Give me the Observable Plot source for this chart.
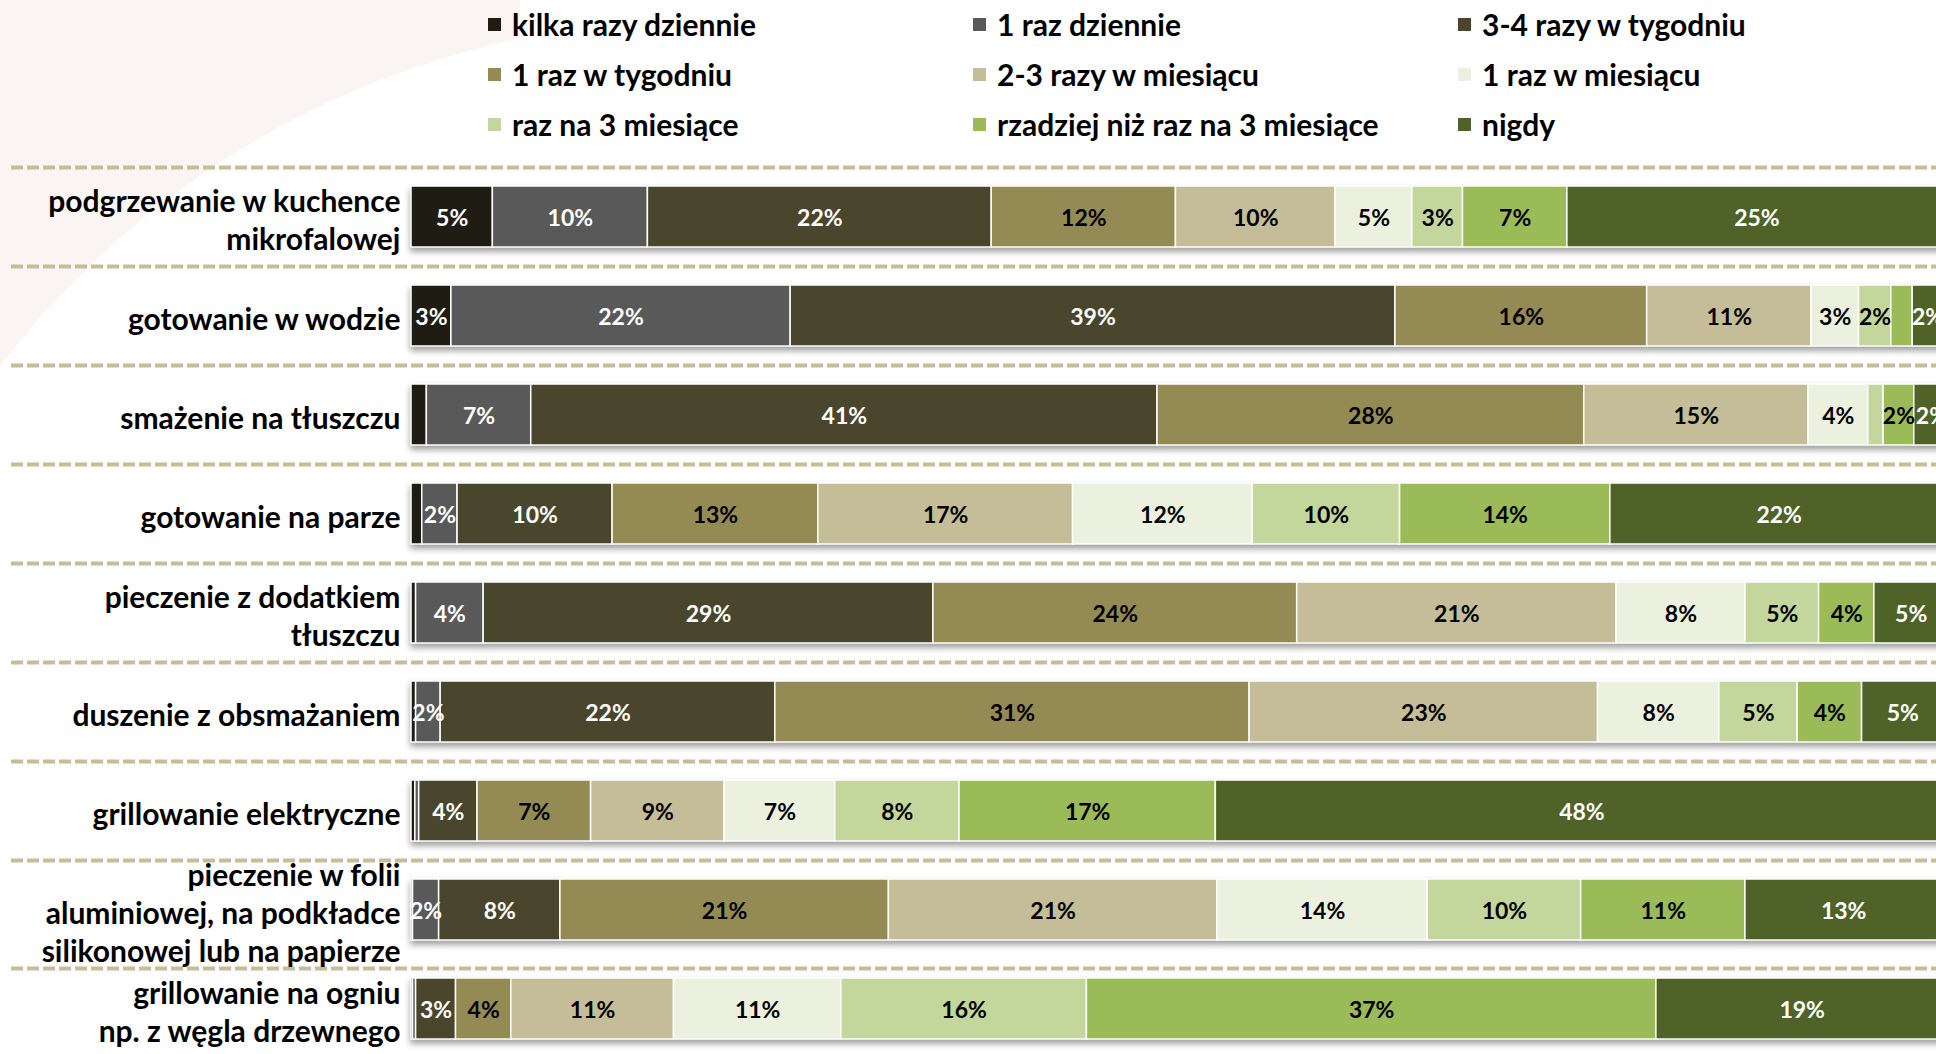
<!DOCTYPE html>
<html>
<head>
<meta charset="utf-8">
<script src="https://cdn.jsdelivr.net/npm/d3@7"></script>
<script src="https://cdn.jsdelivr.net/npm/@observablehq/plot@0.6"></script>
<style>
  html, body { margin: 0; padding: 0; width: 1936px; height: 1054px; overflow: hidden; }
  body {
    font-family: Lato, "Open Sans", sans-serif; font-weight: 700; color: #000;
    background:
      radial-gradient(circle 880px at 700px 900px, rgba(255,255,255,0) 879px, #faf5f2 881px) 0 0 / 520px 430px no-repeat,
      #ffffff;
  }
  #legend { position: relative; height: 150px; }
  #legend .grid { position: absolute; left: 488px; top: -1px; display: grid; grid-template-columns: 485px 485px 485px; grid-auto-rows: 50px; }
  #legend .item { display: flex; align-items: center; font-size: 30px; white-space: nowrap; }
  #legend .sw { width: 13px; height: 13px; margin-right: 11px; flex: none; }
  #chart svg { display: block; overflow: hidden; }
  #chart svg g[aria-label="bar"] { filter: drop-shadow(0px 4px 3px rgba(0,0,0,0.38)); }
</style>
</head>
<body>
<div id="legend"></div>
<div id="chart"></div>
<script>
// Row categories (tick labels, with line breaks as in the original)
const categories = [
  "podgrzewanie w kuchence\nmikrofalowej",
  "gotowanie w wodzie",
  "smażenie na tłuszczu",
  "gotowanie na parze",
  "pieczenie z dodatkiem\ntłuszczu",
  "duszenie z obsmażaniem",
  "grillowanie elektryczne",
  "pieczenie w folii\naluminiowej, na podkładce\nsilikonowej lub na papierze",
  "grillowanie na ogniu\nnp. z węgla drzewnego"
];

// Frequency series (legend order = stacking order)
const frequencies = [
  "kilka razy dziennie",
  "1 raz dziennie",
  "3-4 razy w tygodniu",
  "1 raz w tygodniu",
  "2-3 razy w miesiącu",
  "1 raz w miesiącu",
  "raz na 3 miesiące",
  "rzadziej niż raz na 3 miesiące",
  "nigdy"
];

const colors = ["#1f1d13", "#595959", "#4a452d", "#948a54", "#c4bd97", "#ebf1de", "#c3d69b", "#9bbb59", "#4f6228"];
const darkSeries = ["kilka razy dziennie", "1 raz dziennie", "3-4 razy w tygodniu", "nigdy"];

// Series values (%), one value per category row, in the order above
const kilkaRazyDziennie   = [5.3, 2.6, 1.0, 0.7, 0.3, 0.3, 0.25, 0.1, 0.1];
const razDziennie         = [10.1, 22.1, 6.8, 2.3, 4.4, 1.6, 0.25, 1.7, 0.2];
const razy34WTygodniu     = [22.4, 39.4, 40.8, 10.1, 29.3, 21.8, 3.8, 7.9, 2.6];
const razWTygodniu        = [12.0, 16.4, 27.8, 13.4, 23.7, 30.9, 7.4, 21.4, 3.6];
const razy23WMiesiacu     = [10.4, 10.7, 14.6, 16.6, 20.8, 22.7, 8.7, 21.4, 10.6];
const razWMiesiacu        = [5.0, 3.1, 3.9, 11.7, 8.4, 7.9, 7.2, 13.7, 10.9];
const razNa3Miesiace      = [3.3, 2.1, 1.0, 9.6, 4.8, 5.1, 8.1, 10.0, 16.0];
const rzadziej            = [6.8, 1.4, 2.0, 13.7, 3.6, 4.2, 16.7, 10.7, 37.1];
const nigdy               = [24.7, 2.0, 2.3, 22.0, 4.8, 5.3, 47.7, 12.8, 19.0];

const series = [kilkaRazyDziennie, razDziennie, razy34WTygodniu, razWTygodniu, razy23WMiesiacu,
                razWMiesiacu, razNa3Miesiace, rzadziej, nigdy];

// Build tidy table for Plot
const rows = [];
categories.forEach((c, i) => {
  frequencies.forEach((f, j) => rows.push({category: c, freq: f, value: series[j][i]}));
});

const FONT = "Lato, 'Open Sans', sans-serif";
const pct = d => Math.round(d.value) >= 2 ? Math.round(d.value) + "%" : "";

// Legend (HTML, 3 columns)
const grid = document.createElement("div");
grid.className = "grid";
frequencies.forEach((f, j) => {
  const item = document.createElement("div");
  item.className = "item";
  const sw = document.createElement("span");
  sw.className = "sw";
  sw.style.background = colors[j];
  item.appendChild(sw);
  item.appendChild(document.createTextNode(f));
  grid.appendChild(item);
});
document.getElementById("legend").appendChild(grid);

const dash = {stroke: "#c4bd97", strokeWidth: 4, strokeDasharray: "12,4"};

const chart = Plot.plot({
  width: 1936,
  height: 904,
  marginLeft: 11,
  marginRight: 0,
  marginTop: 0,
  marginBottom: 0,
  style: {fontFamily: FONT, background: "transparent", overflow: "hidden"},
  x: {domain: [0, 100], range: [411, 1946], axis: null},
  y: {domain: categories, range: [17, 908], paddingInner: 0.384, paddingOuter: 0.192, axis: null},
  color: {domain: frequencies, range: colors},
  marks: [
    // dashed separators above each row (the last row sits closer to its separator)
    Plot.ruleY(categories.slice(0, -1), {y: d => d, dy: -49.5, ...dash}),
    Plot.ruleY(categories.slice(-1), {y: d => d, dy: -40.5, ...dash}),
    Plot.barX(rows, Plot.stackX({x: "value", y: "category", fill: "freq", stroke: "white", strokeWidth: 1.5})),
    Plot.text(rows, Plot.stackX({
      x: "value", y: "category", dy: 2,
      text: d => darkSeries.includes(d.freq) ? pct(d) : "",
      fill: "white", fontSize: 23, fontWeight: 700
    })),
    Plot.text(rows, Plot.stackX({
      x: "value", y: "category", dy: 2,
      text: d => darkSeries.includes(d.freq) ? "" : pct(d),
      fill: "black", fontSize: 23, fontWeight: 700
    })),
    Plot.text(categories, {
      x: 0, y: d => d, text: d => d, dx: -11, dy: 2,
      textAnchor: "end", fontSize: 30, fontWeight: 700, lineHeight: 1.27, fill: "black"
    })
  ]
});
document.getElementById("chart").appendChild(chart);
</script>
</body>
</html>
